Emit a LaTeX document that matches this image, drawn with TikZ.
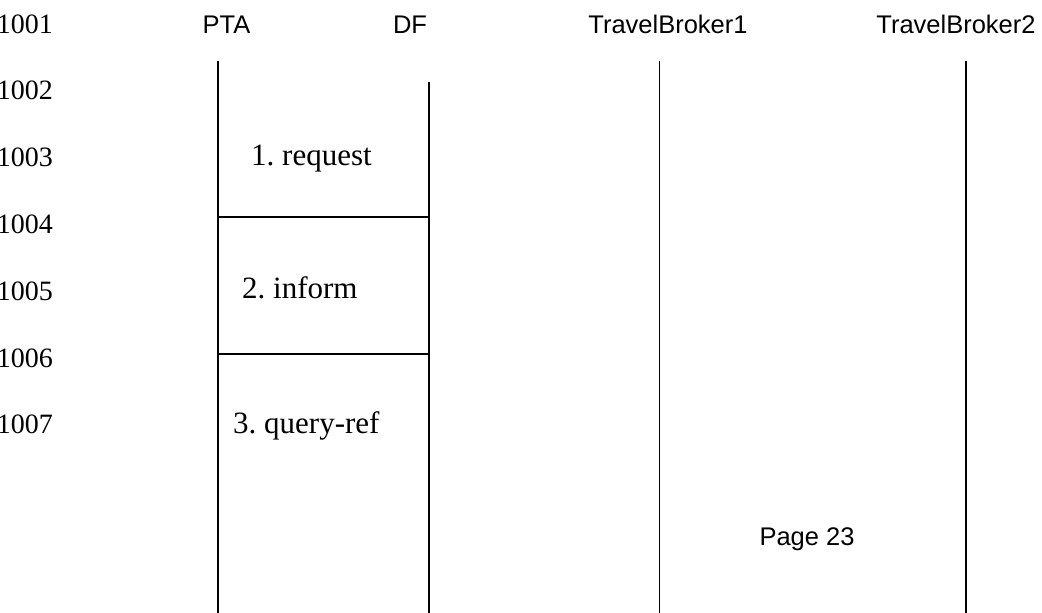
\documentclass[tikz,border=0pt]{standalone}
\usepackage{fontspec}
\setmainfont{Liberation Serif}
\setsansfont{Liberation Sans}
\frenchspacing
\begin{document}
\begin{tikzpicture}[x=1pt,y=-1pt,
  lineno/.style={inner sep=0pt,anchor=base east,font=\fontsize{28}{30}\selectfont\rmfamily},
  agent/.style={inner sep=0pt,anchor=base,font=\fontsize{25.5}{28}\selectfont\sffamily},
  msg/.style={inner sep=0pt,anchor=base west,font=\fontsize{31}{34}\selectfont\rmfamily},
  lifeline/.style={line width=1.4pt},
  msgline/.style={line width=1.4pt}]
\useasboundingbox (0,0) rectangle (1042,613);

% line numbers
\foreach \n [count=\i from 0] in {1001,...,1007}
  \node[lineno] (ln\n) at (53,{33+66.8*\i}) {\n};

% agent names
\node[agent] (pta) at (226.5,33) {PTA};
\node[agent] (df)  at (410,33) {DF};
\node[agent] (tb1) at (668,33) {TravelBroker1};
\node[agent] (tb2) at (956,33) {TravelBroker2};

% lifelines
\coordinate (ptaTop) at (218,61);
\coordinate (ptaBot) at (218,613);
\coordinate (dfTop)  at (429,82);
\coordinate (dfBot)  at (429,613);
\coordinate (tb1Top) at (659.5,61);
\coordinate (tb1Bot) at (659.5,613);
\coordinate (tb2Top) at (966,61);
\coordinate (tb2Bot) at (966,613);
\draw[lifeline] (ptaTop) -- (ptaBot);
\draw[lifeline] (dfTop) -- (dfBot);
\draw[lifeline] (tb1Top) -- (tb1Bot);
\draw[lifeline] (tb2Top) -- (tb2Bot);

% messages between PTA and DF
\coordinate (m1a) at (218,217);
\coordinate (m1b) at (429,217);
\coordinate (m2a) at (218,354);
\coordinate (m2b) at (429,354);
\draw[msgline] (m1a) -- (m1b);
\draw[msgline] (m2a) -- (m2b);

\node[msg] (request) at (251,165) {1. request};
\node[msg] (inform)  at (242,298) {2. inform};
\node[msg] (query)   at (233,433) {3. query-ref};

% page footer
\node[agent] (page) at (807,545) {Page 23};
\end{tikzpicture}
\end{document}
